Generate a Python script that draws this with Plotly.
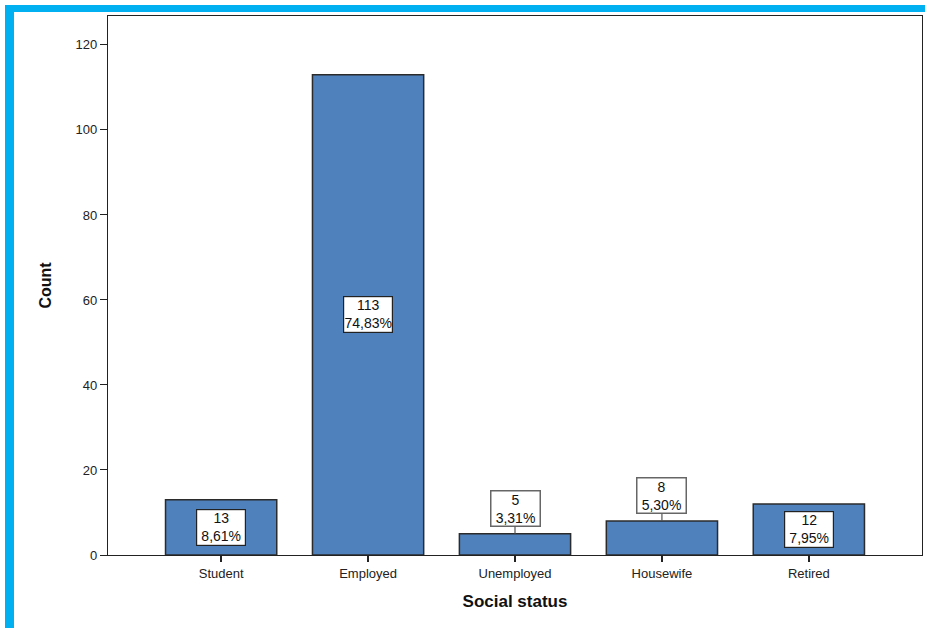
import plotly.graph_objects as go

categories = ["Student", "Employed", "Unemployed", "Housewife", "Retired"]
counts = [13, 113, 5, 8, 12]
label_inside = [True, True, False, False, True]

total = sum(counts)
labels = [f"{c}<br>{c / total * 100:.2f}%".replace(".", ",") for c in counts]

W, H = 925, 628
L, R, T, B = 108, 3, 16, 73
pw, ph = W - L - R, H - T - B

def px_x(p):
    return (p - L) / pw

def px_y(p):
    return (H - B - p) / ph

fig = go.Figure()
fig.add_trace(go.Bar(
    x=list(range(len(categories))), y=counts, width=0.757,
    marker=dict(color="#4F81BD", line=dict(color="#2B2B2B", width=1.5)),
    hoverinfo="skip",
))

lab_font = dict(family="Liberation Sans, Arial", size=14, color="#111")
for i, (c, lab, inside) in enumerate(zip(counts, labels, label_inside)):
    if inside:
        fig.add_annotation(x=i, y=c / 2, text=lab, showarrow=False, width=48,
                           bgcolor="white", bordercolor="#222", borderwidth=1.2,
                           borderpad=0, font=lab_font)
    else:
        fig.add_annotation(x=i, y=c, text=lab, showarrow=True, arrowhead=0, width=48,
                           arrowcolor="#555", arrowwidth=1.2, ax=0, ay=-25,
                           bgcolor="white", bordercolor="#666", borderwidth=1.5,
                           borderpad=0, font=lab_font)

cyan = "#00B0F0"
fig.add_shape(type="rect", xref="paper", yref="paper",
              x0=px_x(5), x1=px_x(W + 5), y0=px_y(12), y1=px_y(5),
              fillcolor=cyan, line=dict(width=0), layer="above")
fig.add_shape(type="rect", xref="paper", yref="paper",
              x0=px_x(5), x1=px_x(14), y0=px_y(H + 5), y1=px_y(5),
              fillcolor=cyan, line=dict(width=0), layer="above")

fig.update_layout(
    width=W, height=H,
    margin=dict(l=L, r=R, t=T, b=B),
    paper_bgcolor="white", plot_bgcolor="white",
    showlegend=False,
    font=dict(family="Liberation Sans, Arial", size=13, color="#222"),
    xaxis=dict(
        range=[-0.77, 4.77], tickmode="array",
        tickvals=list(range(len(categories))), ticktext=categories,
        ticks="outside", ticklen=6, tickcolor="#222", tickwidth=1.5,
        showline=True, linecolor="#222", linewidth=1.2, mirror=True,
        showgrid=False, zeroline=False,
        title=dict(text="<b>Social status</b>", font=dict(size=17, family="Liberation Sans, Arial", color="#111"), standoff=15),
    ),
    yaxis=dict(
        range=[0, 126.8], tickvals=[0, 20, 40, 60, 80, 100, 120],
        ticks="outside", ticklen=7, tickcolor="#222", tickwidth=1.2,
        showline=True, linecolor="#222", linewidth=1.2, mirror=True,
        showgrid=False, zeroline=False,
        title=dict(text="<b>Count</b>", font=dict(size=16, family="Liberation Sans, Arial", color="#111"), standoff=19),
    ),
)

fig.write_html("out.html", config={"displayModeBar": False},
               post_script="document.body.style.margin='0px';document.body.style.overflow='hidden';")
